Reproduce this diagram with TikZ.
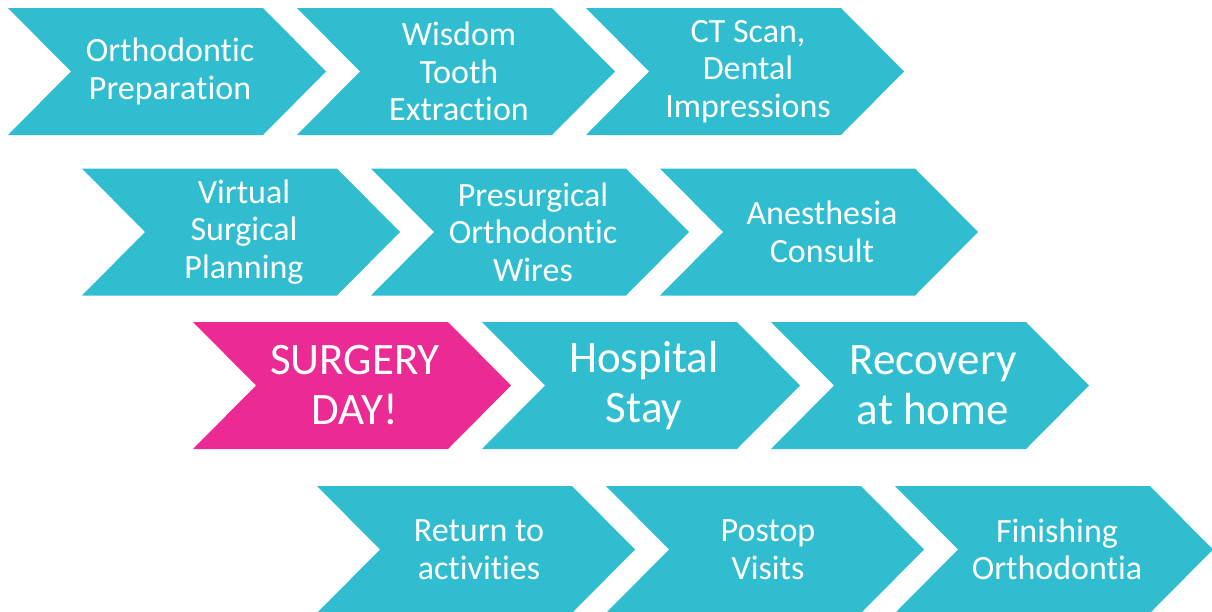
\documentclass[tikz,border=0pt]{standalone}
\usepackage{fontspec}
\setmainfont[Ligatures={NoCommon}]{Carlito}
\definecolor{teal1}{HTML}{31BDD0}
\definecolor{pink1}{HTML}{EC2A94}
\newcommand{\mychev}[6]{%
  \fill[#3] (#1,-#2) -- ++(255,0) -- ++(63,-63.5) -- ++(-63,-63.5) -- ++(-255,0) -- ++(63,63.5) -- cycle;
  \node[#6] (#4) at (#1+162,-#2-63.5) {#5};}
\begin{document}
\begin{tikzpicture}[x=1pt,y=1pt,
  lbl/.style={text=white,align=center,inner sep=0pt,font=\fontsize{34}{37.5}\selectfont},
  biglbl/.style={text=white,align=center,inner sep=0pt,font=\fontsize{45}{50}\selectfont}]
\useasboundingbox (0,0) rectangle (1212,-611);
% row 1
\mychev{8}{8}{teal1}{c1}{Orthodontic\\Preparation}{lbl}
\mychev{297}{8}{teal1}{c2}{Wisdom\\Tooth\\Extraction}{lbl}
\mychev{586}{8}{teal1}{c3}{CT Scan,\\Dental\\Impressions}{lbl}
% row 2
\mychev{82}{168.5}{teal1}{c4}{Virtual\\Surgical\\Planning}{lbl}
\mychev{371}{168.5}{teal1}{c5}{Presurgical\\Orthodontic\\Wires}{lbl}
\mychev{660}{168.5}{teal1}{c6}{Anesthesia\\Consult}{lbl}
% row 3
\mychev{193}{322}{pink1}{c7}{SURGERY\\DAY!}{biglbl}
\mychev{482}{322}{teal1}{c8}{Hospital\\Stay}{biglbl}
\mychev{771}{322}{teal1}{c9}{Recovery\\at home}{biglbl}
% row 4
\mychev{317}{486}{teal1}{c10}{Return to\\activities}{lbl}
\mychev{606}{486}{teal1}{c11}{Postop\\Visits}{lbl}
\mychev{895}{486}{teal1}{c12}{Finishing\\Orthodontia}{lbl}
\end{tikzpicture}
\end{document}
